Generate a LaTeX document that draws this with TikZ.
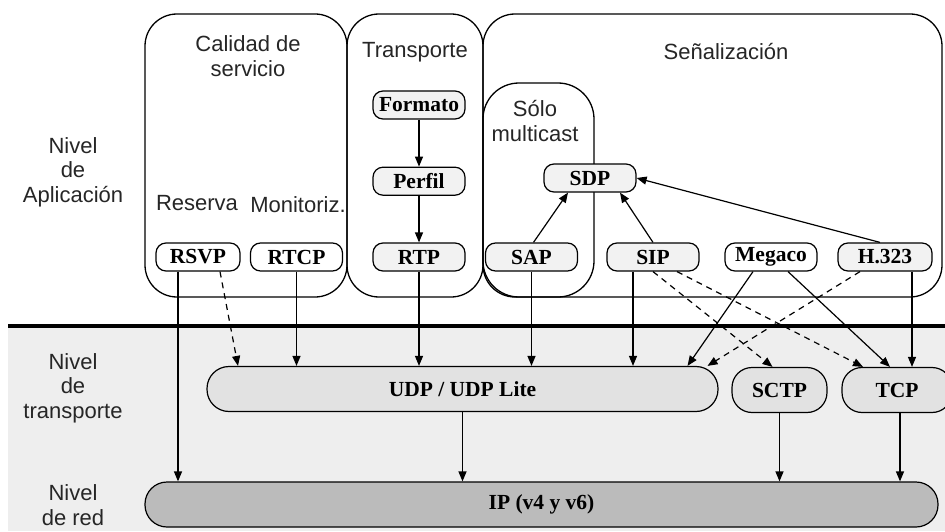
\documentclass[tikz,border=0pt]{standalone}
\usepackage{fontspec}
\setmainfont{Liberation Serif}
\setsansfont{Liberation Sans}
\usetikzlibrary{arrows.meta, positioning}
\definecolor{bandgray}{RGB}{238,238,238}
\definecolor{protofill}{RGB}{242,242,242}
\definecolor{transfill}{RGB}{226,226,226}
\definecolor{netfill}{RGB}{187,187,187}

\tikzset{
  grp/.style={draw, line width=1.3pt, rounded corners=32pt, inner sep=0pt},
  proto/.style={draw, line width=1.2pt, rounded corners=10pt, fill=protofill, minimum width=92pt, minimum height=28pt, inner sep=0pt, font=\fontsize{21.5}{23}\selectfont\bfseries},
  tbox/.style={proto, fill=transfill, minimum height=45pt, rounded corners=20pt},
  lbl/.style={font=\fontsize{22}{24.5}\selectfont\sffamily, align=center, text=black!85},
  arr/.style={-{Triangle[length=10pt,width=8pt]}, line width=1.2pt},
  darr/.style={arr, dash pattern=on 6pt off 5pt},
}

\begin{document}
\begin{tikzpicture}[x=1pt, y=-1pt]
  \clip (0,0) rectangle (945,532);
  \fill[white] (0,0) rectangle (945,532);
  \fill[bandgray] (8,327) rectangle (945,531);
  \draw[line width=3.5pt] (8,326) -- (945,326);

  % grupos
  \node[grp, minimum width=202pt, minimum height=283pt] (qos) at (246,155.5) {};
  \node[grp, minimum width=136pt, minimum height=283pt] (trans) at (415,155.5) {};
  \node[grp, minimum width=459pt, minimum height=283pt] (sig) at (712.5,155.5) {};
  \node[grp, minimum width=111pt, minimum height=214pt, rounded corners=36pt] (mcast) at (538.5,190) {};

  \node[lbl] (qostxt) at (248,56) {Calidad de\\servicio};
  \node[lbl] (transtxt) at (415,52) {Transporte};
  \node[lbl] (sigtxt) at (726,52) {Señalización};
  \node[lbl] (mcasttxt) at (535,121) {Sólo\\multicast};
  \node[lbl] (reserva) at (197,203) {Reserva};
  \node[lbl] (monit) at (298,205) {Monitoriz.};

  \node[lbl] (nivapp) at (73,172) {Nivel\\de\\Aplicación};
  \node[lbl] (nivtra) at (73,388) {Nivel\\de\\transporte};
  \node[lbl] (nivred) at (73,505) {Nivel\\de red};

  % protocolos
  \node[proto, fill=white, minimum width=84pt] (rsvp) at (198,257) {RSVP};
  \node[proto, fill=white] (rtcp) at (296.5,257) {RTCP};
  \node[proto] (rtp) at (419,257) {RTP};
  \node[proto] (sap) at (531.5,257) {SAP};
  \node[proto] (sip) at (653,257) {SIP};
  \node[proto, fill=white] (megaco) at (771,257) {Megaco};
  \node[proto, minimum width=94pt] (h323) at (885,257) {H.323};
  \node[proto] (formato) at (419,105) {Formato};
  \node[proto, below=47pt of formato] (perfil) {Perfil};
  \node[proto] (sdp) at (590,178) {SDP};

  \node[tbox, minimum width=511pt, rounded corners=22pt] (udp) at (462.5,389) {UDP / UDP Lite};
  \node[tbox, minimum width=95pt] (sctp) at (779.5,390) {SCTP};
  \node[tbox, minimum width=110pt] (tcp) at (897,390) {TCP};
  \node[tbox, fill=netfill, minimum width=793pt, rounded corners=22pt] (ip) at (541.5,504.5) {IP (v4 y v6)};

  \draw[arr] (formato) -- (perfil);
  \draw[arr] (perfil) -- (rtp);
  \draw[arr] ([xshift=-20pt]rsvp.south) -- ([xshift=-20pt]rsvp.south |- ip.north);
  \draw[darr] ([xshift=22pt]rsvp.south) -- ([xshift=-224.5pt]udp.north);
  \draw[arr] (rtcp.south) -- (rtcp.south |- udp.north);
  \draw[arr] (rtp.south) -- (rtp.south |- udp.north);
  \draw[arr] (sap.south) -- (sap.south |- udp.north);
  \draw[arr] ([xshift=-20pt]sip.south) -- ([xshift=-20pt]sip.south |- udp.north);
  \draw[arr] ([xshift=2pt]sap.north) -- ([xshift=-22pt]sdp.south);
  \draw[arr] (sip.north) -- ([xshift=30pt]sdp.south);
  \draw[arr] ([xshift=-5pt]h323.north) -- (sdp.east);
  \draw[arr] ([xshift=-18pt]megaco.south) -- ([xshift=225pt]udp.north);
  \draw[arr] ([xshift=17pt]megaco.south) -- ([xshift=-7pt]tcp.north);
  \draw[arr] ([xshift=27pt]h323.south) -- ([xshift=27pt]h323.south |- tcp.north);
  \draw[darr] ([xshift=-25pt]h323.south) -- ([xshift=245pt]udp.north);
  \draw[darr] (sip.south) -- ([xshift=-7pt]sctp.north);
  \draw[darr] ([xshift=24pt]sip.south) -- ([xshift=-34pt]tcp.north);
  \draw[arr] (udp.south) -- (udp.south |- ip.north);
  \draw[arr] (sctp.south) -- (sctp.south |- ip.north);
  \draw[arr] ([xshift=3pt]tcp.south) -- ([xshift=3pt]tcp.south |- ip.north);
\end{tikzpicture}
\end{document}
